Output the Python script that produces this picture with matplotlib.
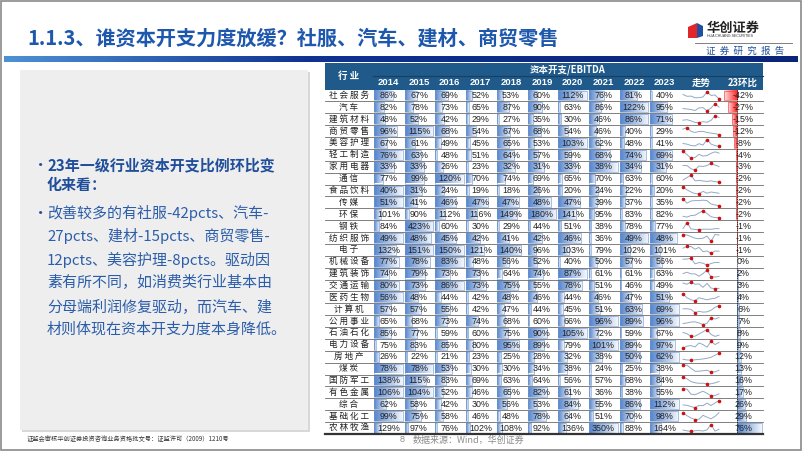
import matplotlib.pyplot as plt
import numpy as np
from matplotlib.colors import LinearSegmentedColormap
from matplotlib.patches import Rectangle, Polygon

CJK = ['Noto Sans CJK SC', 'DejaVu Sans']
NUM = ['Liberation Sans', 'DejaVu Sans']

industries = ["社会服务", "汽车", "建筑材料", "商贸零售", "美容护理", "轻工制造", "家用电器",
              "通信", "食品饮料", "传媒", "环保", "钢铁", "纺织服饰", "电子", "机械设备",
              "建筑装饰", "交通运输", "医药生物", "计算机", "公用事业", "石油石化", "电力设备",
              "房地产", "煤炭", "国防军工", "有色金属", "综合", "基础化工", "农林牧渔"]
years = [2014, 2015, 2016, 2017, 2018, 2019, 2020, 2021, 2022, 2023]

# capex / EBITDA (%) per year, rows follow `industries`
capex_2014 = [86, 82, 48, 96, 67, 76, 33, 77, 40, 51, 101, 84, 49, 132, 77, 74, 80, 56, 57, 65, 85, 75, 26, 78, 138, 106, 62, 99, 129]
capex_2015 = [67, 78, 52, 115, 61, 63, 33, 99, 31, 41, 90, 423, 48, 151, 78, 79, 73, 48, 57, 68, 77, 83, 22, 78, 115, 104, 58, 75, 97]
capex_2016 = [69, 73, 42, 68, 49, 48, 26, 120, 24, 46, 112, 60, 45, 150, 83, 73, 86, 44, 55, 73, 59, 85, 21, 53, 83, 52, 42, 58, 76]
capex_2017 = [52, 65, 29, 54, 45, 51, 23, 70, 19, 47, 116, 30, 42, 121, 48, 73, 73, 42, 42, 74, 60, 80, 23, 30, 69, 46, 30, 46, 102]
capex_2018 = [53, 87, 27, 67, 65, 64, 32, 74, 18, 47, 149, 29, 41, 140, 56, 64, 75, 48, 47, 68, 75, 95, 25, 30, 63, 65, 56, 48, 108]
capex_2019 = [60, 90, 35, 68, 53, 57, 31, 69, 26, 48, 180, 44, 42, 96, 52, 74, 55, 46, 44, 60, 90, 89, 28, 34, 64, 82, 53, 78, 92]
capex_2020 = [112, 63, 30, 54, 103, 59, 33, 65, 20, 47, 141, 51, 46, 103, 40, 87, 78, 44, 45, 66, 105, 79, 32, 38, 56, 61, 84, 64, 136]
capex_2021 = [76, 86, 46, 46, 62, 68, 38, 70, 24, 39, 95, 38, 36, 79, 50, 61, 51, 46, 51, 96, 72, 101, 38, 24, 57, 36, 55, 51, 350]
capex_2022 = [81, 122, 86, 40, 48, 74, 34, 63, 22, 37, 83, 78, 49, 102, 57, 61, 46, 47, 63, 89, 59, 89, 50, 25, 68, 38, 86, 70, 88]
capex_2023 = [40, 95, 71, 29, 41, 69, 31, 60, 20, 35, 82, 77, 48, 101, 56, 63, 49, 51, 69, 96, 67, 97, 62, 38, 84, 55, 112, 98, 164]
change_23 = [-42, -27, -15, -12, -8, -4, -3, -2, -2, -2, -2, -1, -1, -1, 0, 2, 3, 4, 6, 7, 8, 9, 12, 13, 16, 17, 26, 29, 76]

title = "1.1.3、谁资本开支力度放缓？社服、汽车、建材、商贸零售"
bold_lines = ["23年一级行业资本开支比例环比变", "化来看："]
body_lines = ["改善较多的有社服-42pcts、汽车-", "27pcts、建材-15pcts、商贸零售-",
              "12pcts、美容护理-8pcts。驱动因", "素有所不同，如消费类行业基本由",
              "分母端利润修复驱动，而汽车、建", "材则体现在资本开支力度本身降低。"]

vals = np.array([capex_2014, capex_2015, capex_2016, capex_2017, capex_2018,
                 capex_2019, capex_2020, capex_2021, capex_2022, capex_2023]).T

fig = plt.figure(figsize=(8.02, 4.51), dpi=100)
ax = fig.add_axes([0, 0, 1, 1])

blue_bar = LinearSegmentedColormap.from_list("bb", ["#5485CE", "#F4F7FC"])
red_bar = LinearSegmentedColormap.from_list("rb", ["#FFE0E0", "#FF1F1F"])
band = LinearSegmentedColormap.from_list("band", [(0, "#4C8FD2"), (0.38, "#103290"), (1, "#0A2478")])


def grad_rect(x0, x1, y0, y1, cmap, edge, flip=False):
    if x1 - x0 <= 0:
        return
    g = np.linspace(0, 1, 64).reshape(1, -1)
    if flip:
        g = g[:, ::-1]
    ax.imshow(g, cmap=cmap, extent=[x0, x1, y1, y0], aspect='auto',
              interpolation='bilinear', zorder=2)
    if edge:
        ax.add_patch(Rectangle((x0, y0), x1 - x0, y1 - y0, fill=False, ec=edge, lw=0.4, zorder=3))


# slide frame, title, band
ax.add_patch(Rectangle((1, 1), 800, 449, fill=False, ec="#8A8A8A", lw=1.2, zorder=10))
ax.text(27, 38, title, fontsize=14.5, fontweight='bold', color="#1E58AC", family=CJK, va='center')
grad_rect(4, 798, 57, 62.5, band, None)

# logo
ax.add_patch(Polygon([[688, 27], [697, 23], [697, 38], [688, 38]], closed=True, fc="#E0262B", ec='none'))
ax.add_patch(Polygon([[697, 23], [703, 26], [703, 36], [697, 38]], closed=True, fc="#1F4FA0", ec='none'))
ax.text(707, 28, "华创证券", fontsize=9.5, fontweight='bold', color="#222222", family=CJK, va='center')
ax.text(707, 36, "HUA CHUANG SECURITIES", fontsize=2.6, color="#333333", family=NUM, va='center')
ax.plot([695, 792], [43, 43], color="#7F7F7F", lw=0.7)
ax.text(745, 51, "证  券  研  究  报  告", fontsize=6.8, color="#1F4E9A", family=CJK, va='center', ha='center')

# left text box
ax.add_patch(Rectangle((22, 72), 288, 360, fc="#D8D8D8", ec='none', zorder=1))
ax.add_patch(Rectangle((20, 70), 288, 360, fc="#EEEEEE", ec='none', zorder=1))
y = 165
ax.text(33, y, "•", fontsize=11, color="#1F4E9A", family=CJK, va='center')
for line in bold_lines:
    ax.text(47, y, line, fontsize=10.8, fontweight='bold', color="#1F4E9A", family=CJK, va='center')
    y += 20
y = 213
ax.text(33, y, "•", fontsize=11, color="#1F4E9A", family=CJK, va='center')
for line in body_lines:
    ax.text(47, y, line, fontsize=10.8, color="#2B5DAA", family=CJK, va='center')
    y += 23.3

# footer
ax.text(27, 439, "证监会审核华创证券投资咨询业务资格批文号：证监许可（2009）1210号", fontsize=4.5,
        color="#333333", family=CJK, va='center')
ax.text(400, 440, "8", fontsize=6.5, color="#8C8C8C", family=NUM, va='center')
ax.text(413, 440, "数据来源：Wind，华创证券", fontsize=6.5, color="#8C8C8C", family=CJK, va='center')

# table geometry
T_L, LAB_R, YW = 325, 373, 30.7
SP_L, SP_R, CH_R = 680, 722, 763
H_TOP, H_MID, R_TOP, R_H = 63, 76, 89.5, 11.875
n = len(industries)
R_BOT = R_TOP + n * R_H

ax.add_patch(Rectangle((T_L, H_TOP), CH_R - T_L, R_TOP - H_TOP, fc="#1F5A8A", ec='none', zorder=1))
ax.plot([LAB_R, CH_R], [H_MID, H_MID], color="#163F63", lw=0.8, zorder=2)
ax.text((T_L + LAB_R) / 2, (H_TOP + R_TOP) / 2, "行 业", fontsize=6.8, fontweight='bold', color='white',
        family=CJK, ha='center', va='center')
ax.text((LAB_R + CH_R) / 2, (H_TOP + H_MID) / 2, "资本开支/EBITDA", fontsize=6.8, fontweight='bold',
        color='white', family=CJK, ha='center', va='center')
col_left = LAB_R + np.arange(len(years)) * YW
for j, yr in enumerate(years):
    ax.text(col_left[j] + YW / 2, (H_MID + R_TOP) / 2, str(yr), fontsize=6.8, fontweight='bold',
            color='white', family=NUM, ha='center', va='center')
ax.text((SP_L + SP_R) / 2, (H_MID + R_TOP) / 2, "走势", fontsize=6.8, fontweight='bold', color='white',
        family=CJK, ha='center', va='center')
ax.text((SP_R + CH_R) / 2, (H_MID + R_TOP) / 2, "23环比", fontsize=6.8, fontweight='bold', color='white',
        family=CJK, ha='center', va='center')

chg = np.array(change_23)
c_in_l, c_in_r = SP_R + 1.5, CH_R - 1.5
axis_x = c_in_l + (c_in_r - c_in_l) * abs(chg.min()) / (abs(chg.min()) + chg.max())
c_scale = (c_in_r - c_in_l) / (abs(chg.min()) + chg.max())

for i, name in enumerate(industries):
    yt = R_TOP + i * R_H
    yb = yt + R_H
    yc = (yt + yb) / 2
    row = vals[i]
    mn, mx = row.min(), row.max()
    ax.text((T_L + LAB_R) / 2, yc, " ".join(name), fontsize=6.2, color="#222222", family=CJK,
            ha='center', va='center')
    for j, v in enumerate(row):
        x0 = col_left[j] + 1
        w = YW - 2
        frac = 0.06 + 0.94 * (v - mn) / (mx - mn)
        grad_rect(x0, x0 + w * frac, yt + 1, yb - 1, blue_bar, "#6F96D0")
        ax.text(col_left[j] + YW / 2, yc + 0.3, f"{v}%", fontsize=6.4, color="#222222", family=NUM,
                ha='center', va='center', zorder=4)
    # sparkline
    xs = np.linspace(SP_L + 3, SP_R - 3, len(years))
    ys = yb - 2.5 - (row - mn) / (mx - mn) * (R_H - 5)
    ax.plot(xs, ys, color="#93A9C6", lw=0.7, zorder=3)
    for k in (int(np.argmax(row)), int(np.argmin(row))):
        ax.plot(xs[k], ys[k], 'o', ms=1.6, color="#D01010", zorder=4)
    # change bar
    c = chg[i]
    if c < 0:
        grad_rect(axis_x + c * c_scale, axis_x, yt + 1, yb - 1, red_bar, "#FF3030")
    elif c > 0:
        grad_rect(axis_x, axis_x + c * c_scale, yt + 1, yb - 1, blue_bar, "#6F96D0")
    ax.text((SP_R + CH_R) / 2 + 1, yc + 0.3, f"{c}%", fontsize=6.4, color="#222222", family=NUM,
            ha='center', va='center', zorder=4)
    if i < n - 1:
        ax.plot([T_L, CH_R], [yb, yb], color="#6A6A6A", lw=0.6, zorder=3)

ax.plot([axis_x, axis_x], [R_TOP, R_BOT], color="#222222", lw=0.6, ls=(0, (1.5, 1)), zorder=5)
ax.plot([T_L, CH_R], [R_BOT, R_BOT], color="#333333", lw=1.6, zorder=5)

ax.set_xlim(0, 802)
ax.set_ylim(451, 0)
ax.axis('off')
fig.savefig("out.png", dpi=100)
